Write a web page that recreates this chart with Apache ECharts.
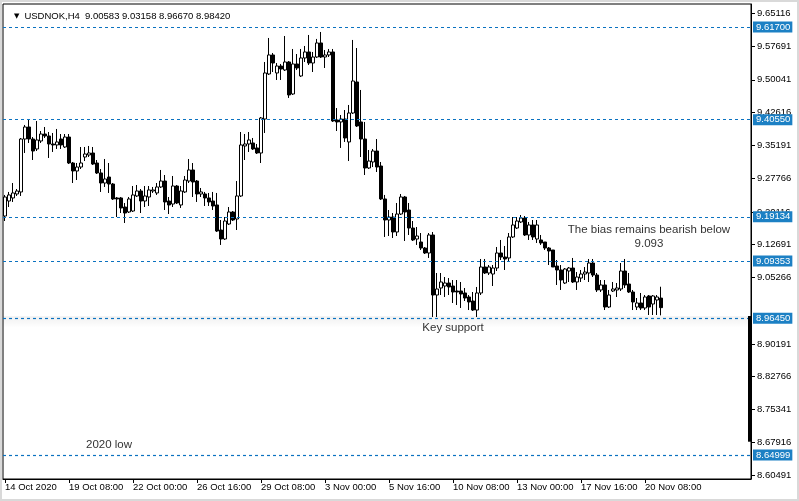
<!DOCTYPE html>
<html><head><meta charset="utf-8">
<script src="https://cdn.jsdelivr.net/npm/echarts@6/dist/echarts.min.js"></script>
<style>html,body{margin:0;padding:0;background:#fff}#c{width:799px;height:501px}</style>
</head><body><div id="c"></div>
<script>
const symbolName = 'USDNOK,H4';
const xTickLabels = ['14 Oct 2020','19 Oct 08:00','22 Oct 00:00','26 Oct 16:00','29 Oct 08:00','3 Nov 00:00','5 Nov 16:00','10 Nov 08:00','13 Nov 00:00','17 Nov 16:00','20 Nov 08:00'];
const yTickValues = [8.60491,8.67916,8.75341,8.82766,8.90191,9.05266,9.12691,9.20116,9.27766,9.35191,9.42616,9.50041,9.57691,9.65116];
const levelLines = [9.617,9.4055,9.19134,9.09353,8.9645,8.64999];
const annotationTexts = ['The bias remains bearish below\n9.093','Key support','2020 low'];

const opens = [9.1918,9.2258,9.2327,9.2417,9.2463,9.3663,9.3935,9.3663,9.3437,9.3618,
9.3776,9.3731,9.3550,9.3528,9.3663,9.3482,9.3708,9.3119,9.2938,9.3028,
9.3255,9.3301,9.3346,9.3119,9.2893,9.2666,9.2802,9.2643,9.2327,9.2327,
9.2122,9.2009,9.2031,9.2372,9.2485,9.2258,9.2349,9.2485,9.2440,9.2576,
9.2711,9.2258,9.2190,9.2598,9.2168,9.2463,9.2711,9.2961,9.2711,9.2417,
9.2417,9.2327,9.2258,9.2168,9.1601,9.1397,9.1737,9.2009,9.1850,9.2372,
9.3505,9.3550,9.3573,9.3460,9.3346,9.4116,9.5136,9.5567,9.5159,9.5317,
9.5227,9.5408,9.4683,9.5363,9.5091,9.5499,9.5635,9.5385,9.5521,9.5839,
9.5521,9.5567,9.5635,9.4094,9.4049,9.4116,9.3596,9.4252,9.4955,9.4049,
9.3663,9.3006,9.3142,9.3391,9.3051,9.2304,9.1828,9.1895,9.1556,9.1963,
9.2349,9.2054,9.1646,9.1397,9.1329,9.1193,9.1080,9.1488,9.0128,9.0287,
9.0332,9.0400,9.0332,9.0219,9.0219,9.0174,9.0083,8.9992,8.9788,9.0174,
9.0763,9.0627,9.0604,9.0740,9.1080,9.0989,9.0967,9.1443,9.1646,9.1783,
9.1873,9.1488,9.1715,9.1397,9.1375,9.1329,9.1193,9.1148,9.0785,9.0695,
9.0400,9.0672,9.0740,9.0423,9.0513,9.0604,9.0627,9.0853,9.0581,9.0242,
9.0355,8.9856,9.0219,9.0242,9.0264,9.0672,9.0377,9.0196,8.9856,8.9947,
8.9834,9.0106,8.9924,9.0015,9.00583];
const closes = [9.2349,9.2395,9.2440,9.2485,9.3663,9.3935,9.3663,9.3391,9.3641,9.3776,
9.3731,9.3550,9.3528,9.3596,9.3528,9.3708,9.3119,9.2938,9.3028,9.3119,
9.3323,9.3346,9.3096,9.2893,9.2666,9.2757,9.2643,9.2304,9.2304,9.2100,
9.1986,9.2304,9.2395,9.2485,9.2258,9.2372,9.2508,9.2508,9.2576,9.2711,
9.2236,9.2168,9.2598,9.2213,9.2485,9.2734,9.2961,9.2689,9.2417,9.2463,
9.2327,9.2236,9.2145,9.1578,9.1397,9.1805,9.2009,9.1828,9.2372,9.3528,
9.3550,9.3641,9.3437,9.3346,9.4139,9.5159,9.5567,9.5385,9.5317,9.5249,
9.5408,9.4661,9.5363,9.5272,9.5499,9.5635,9.5385,9.5521,9.5839,9.5521,
9.5567,9.5635,9.4071,9.4049,9.4116,9.3686,9.4252,9.4977,9.3958,9.3663,
9.3006,9.3164,9.3391,9.3028,9.2304,9.1828,9.1895,9.1556,9.1963,9.2349,
9.2009,9.1646,9.1375,9.1465,9.1193,9.1080,9.1488,9.0128,9.0264,9.0423,
9.0400,9.0310,9.0196,9.0196,9.0151,9.0060,8.9970,8.9788,9.0174,9.0763,
9.0627,9.0763,9.0740,9.1080,9.0989,9.0944,9.1443,9.1715,9.1805,9.1873,
9.1488,9.1715,9.1443,9.1715,9.1307,9.1193,9.1125,9.0763,9.0695,9.0468,
9.0717,9.0740,9.0423,9.0536,9.0604,9.0649,9.0853,9.0581,9.0242,9.0355,
8.9856,9.0128,9.0264,9.0287,9.0672,9.0355,9.0196,8.9970,8.9947,8.9834,
9.0083,8.9856,9.0106,9.0083,8.98420];
const lows = [9.1805,9.2122,9.2236,9.2372,9.2372,9.3346,9.3573,9.3187,9.3391,9.3573,
9.3686,9.3233,9.3369,9.3437,9.3437,9.3460,9.3096,9.2666,9.2734,9.2983,
9.3164,9.3255,9.3074,9.2870,9.2463,9.2576,9.2440,9.2281,9.1895,9.1986,
9.1760,9.1986,9.2009,9.2349,9.1986,9.2122,9.2145,9.2440,9.2395,9.2553,
9.2054,9.1963,9.2122,9.2190,9.2100,9.2440,9.2666,9.2349,9.2236,9.2349,
9.2145,9.2145,9.2054,9.1556,9.1262,9.1375,9.1715,9.1805,9.1601,9.2349,
9.3187,9.3369,9.3414,9.3323,9.3119,9.3799,9.5113,9.5181,9.5000,9.5000,
9.5204,9.4593,9.4661,9.5227,9.5068,9.5408,9.5340,9.5181,9.5499,9.5499,
9.5272,9.5521,9.4049,9.3844,9.3460,9.3596,9.3164,9.4230,9.3935,9.3255,
9.2847,9.2983,9.3028,9.2915,9.2281,9.1443,9.1465,9.1420,9.1465,9.1941,
9.1352,9.1488,9.1352,9.1262,9.1148,9.1057,9.0967,8.9630,8.9630,9.0128,
9.0083,9.0128,8.9947,8.9902,8.9834,8.9992,8.9788,8.9766,8.9630,9.0128,
9.0604,9.0581,9.0332,9.0672,9.0921,9.0695,9.0876,9.1420,9.1624,9.1760,
9.1465,9.1375,9.1375,9.1307,9.1262,9.1148,9.0808,9.0763,9.0355,9.0242,
9.0377,9.0423,9.0400,9.0242,9.0423,9.0468,9.0423,9.0536,9.0196,9.0196,
8.9788,8.9834,9.0196,9.0083,9.0219,9.0287,9.0174,8.9788,8.9788,8.9788,
8.9788,8.9675,8.9675,8.9675,8.96670];
const highs = [9.2395,9.2463,9.2666,9.2530,9.3686,9.3981,9.4116,9.3708,9.4071,9.3844,
9.3935,9.3822,9.3799,9.3890,9.3776,9.3776,9.3776,9.3142,9.3119,9.3482,
9.3482,9.3505,9.3482,9.3187,9.2983,9.3210,9.3119,9.2666,9.2349,9.2349,
9.2213,9.2349,9.2598,9.2621,9.2530,9.2598,9.2598,9.2576,9.2666,9.2961,
9.2847,9.2349,9.2825,9.2621,9.2598,9.2825,9.3210,9.3119,9.2734,9.2553,
9.2463,9.2440,9.2463,9.2440,9.1828,9.1895,9.2122,9.2031,9.2711,9.3822,
9.3776,9.3822,9.3686,9.3550,9.4162,9.5408,9.5952,9.5612,9.5385,9.5363,
9.5997,9.5430,9.5703,9.5589,9.5703,9.5771,9.6020,9.5635,9.5930,9.6088,
9.5680,9.5703,9.5703,9.4365,9.4207,9.4320,9.4434,9.5907,9.5725,9.4774,
9.4049,9.3414,9.3437,9.3663,9.3142,9.2395,9.2054,9.1986,9.2213,9.2417,
9.2372,9.2213,9.1805,9.1669,9.1533,9.1216,9.1533,9.1556,9.0627,9.0627,
9.0536,9.0513,9.0468,9.0468,9.0423,9.0287,9.0128,9.0196,9.0310,9.0944,
9.0944,9.0808,9.0808,9.1216,9.1375,9.1239,9.1533,9.1895,9.1895,9.1941,
9.1918,9.1783,9.1828,9.1828,9.1488,9.1329,9.1216,9.1148,9.0921,9.0808,
9.0740,9.0763,9.0967,9.0649,9.0695,9.0763,9.0944,9.0944,9.0627,9.0468,
9.0468,9.0242,9.0423,9.0400,9.0853,9.0944,9.0627,9.0242,9.0060,9.0174,
9.0128,9.0128,9.0128,9.0128,9.03158];

const FONT = 'Liberation Sans';
const BLUE = '#1c80c4';
const LINEBLUE = '#0b72c0';
const nSlots = 187;
const categories = Array.from({length: nSlots}, (_, i) => String(i));
const candles = opens.map((o, i) => [o, closes[i], lows[i], highs[i]]);
const last = opens.length - 1;
const header = symbolName + '  ' + [opens[last], highs[last], lows[last], closes[last]].map(v => v.toFixed(5)).join(' ');
const showTick = (idx) => idx % 16 === 0 && idx / 16 < xTickLabels.length;

const lvlLabel = (v, bg) => ({
  show: true, position: 'end', distance: 2, formatter: v.toFixed(5),
  backgroundColor: bg, color: '#fff', padding: [1, 2, 0, 3],
  fontSize: 9.5, fontFamily: FONT, lineHeight: 10
});

const chart = echarts.init(document.getElementById('c'), null, {renderer: 'canvas'});
chart.setOption({
  animation: false,
  backgroundColor: '#fff',
  title: {
    left: 9, top: 6,
    text: '{a|▼}{b|' + header + '}',
    textStyle: {rich: {a: {fontSize: 7, color: '#000', fontFamily: 'DejaVu Sans', padding: [0, 5, 0, 0]}, b: {fontSize: 9.5, fontWeight: 'normal', color: '#000', fontFamily: FONT}}}
  },
  graphic: [{type: 'rect', silent: true, z: 100, shape: {x: 0, y: 0, width: 799, height: 501}, style: {fill: 'none', stroke: '#d9d9d9', lineWidth: 4}}],
  grid: {left: 3, width: 748, top: 4, height: 475, show: true, borderColor: '#000', borderWidth: 1, backgroundColor: '#fff'},
  xAxis: {
    type: 'category', data: categories, boundaryGap: true,
    axisLine: {show: true, lineStyle: {color: '#000', width: 1}},
    axisTick: {show: true, alignWithLabel: true, interval: showTick, length: 4, lineStyle: {color: '#000'}},
    axisLabel: {interval: showTick, align: 'left', margin: 3, fontSize: 9.5, fontFamily: FONT, color: '#000',
      formatter: (v, idx) => (idx % 16 === 0 && xTickLabels[idx / 16]) ? xTickLabels[idx / 16] : ''},
    splitLine: {show: false}
  },
  yAxis: {
    type: 'value', position: 'right', min: 8.5959, max: 9.6722, scale: true,
    axisLine: {show: true, lineStyle: {color: '#000'}},
    axisTick: {show: true, customValues: yTickValues, length: 4, lineStyle: {color: '#000'}},
    axisLabel: {customValues: yTickValues, margin: 6, fontSize: 9.5, fontFamily: FONT, color: '#000', formatter: v => v.toFixed(5)},
    splitLine: {show: false}
  },
  series: [{
    type: 'candlestick',
    data: candles,
    barWidth: 3,
    itemStyle: {color: '#fff', color0: '#000', borderColor: '#000', borderColor0: '#000', borderColorDoji: '#000', borderWidth: 1},
    emphasis: {disabled: true},
    markArea: {
      silent: true,
      itemStyle: {color: {type: 'linear', x: 0, y: 0, x2: 0, y2: 1, colorStops: [{offset: 0, color: 'rgba(0,0,0,0.06)'}, {offset: 1, color: 'rgba(0,0,0,0)'}]}},
      data: [[{yAxis: 8.9645}, {yAxis: 8.9385}]]
    },
    markLine: {
      silent: true, symbol: ['none', 'none'], animation: false,
      lineStyle: {color: LINEBLUE, type: [3, 3], width: 1, opacity: 1},
      data: levelLines.map(v => ({yAxis: v, lineStyle: {color: LINEBLUE, type: [3, 3], width: 1.2, opacity: 1}, label: lvlLabel(v, BLUE)}))
        .concat([{yAxis: closes[last], lineStyle: {opacity: 0}, label: lvlLabel(closes[last], '#000')}])
        .concat([[{coord: ['186', 8.9652], lineStyle: {color: '#000', width: 3, type: 'solid'}, label: {show: false}}, {coord: ['186', 8.6804]}]])
    },
    markPoint: {
      silent: true, animation: false, symbol: 'rect', symbolSize: 1, itemStyle: {color: 'rgba(0,0,0,0)'},
      label: {show: true, position: 'inside', color: '#333', fontSize: 11.5, fontFamily: FONT, lineHeight: 14, align: 'center'},
      data: [
        {coord: ['161', 9.1443], label: {formatter: annotationTexts[0]}},
        {coord: ['112', 8.9381], label: {formatter: annotationTexts[1]}},
        {coord: ['26', 8.6729], label: {formatter: annotationTexts[2]}}
      ]
    }
  }]
});
</script></body></html>
